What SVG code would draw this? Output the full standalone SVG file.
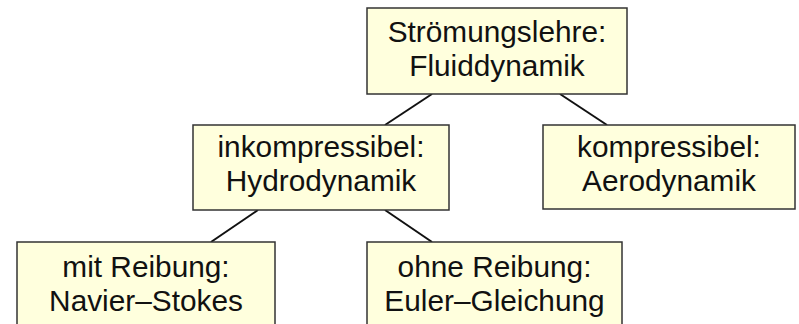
<svg xmlns="http://www.w3.org/2000/svg" width="799" height="324" viewBox="0 0 799 324">
<style>
.box{fill:#ffffdd;stroke:#333;stroke-width:1.5}
.t{font-family:"Liberation Sans",Arial,sans-serif;font-size:29.8px;fill:#111;text-anchor:middle}
.c{stroke:#111;stroke-width:2;fill:none}
</style>
<rect width="799" height="324" fill="#fff"/>
<g id="connectors">
<line class="c" x1="432" y1="94" x2="385" y2="125"/>
<line class="c" x1="560" y1="94" x2="607" y2="125"/>
<line class="c" x1="258" y1="210" x2="211" y2="242"/>
<line class="c" x1="385" y1="210" x2="432" y2="242"/>
</g>
<g id="n_stroemung">
<rect class="box" x="367" y="8" width="260" height="86"/>
<text class="t" x="497" y="42">Strömungslehre:</text>
<text class="t" x="497" y="76">Fluiddynamik</text>
</g>
<g id="n_inkomp">
<rect class="box" x="193" y="125" width="256" height="85"/>
<text class="t" x="321" y="157">inkompressibel:</text>
<text class="t" x="321" y="191">Hydrodynamik</text>
</g>
<g id="n_komp">
<rect class="box" x="543" y="125" width="252" height="84"/>
<text class="t" x="669" y="157">kompressibel:</text>
<text class="t" x="669" y="191">Aerodynamik</text>
</g>
<g id="n_mit">
<rect class="box" x="17" y="242" width="258" height="90"/>
<text class="t" x="146" y="277">mit Reibung:</text>
<text class="t" x="146" y="311">Navier–Stokes</text>
</g>
<g id="n_ohne">
<rect class="box" x="367" y="242" width="255" height="90"/>
<text class="t" x="494.5" y="277">ohne Reibung:</text>
<text class="t" x="494.5" y="311">Euler–Gleichung</text>
</g>
</svg>
